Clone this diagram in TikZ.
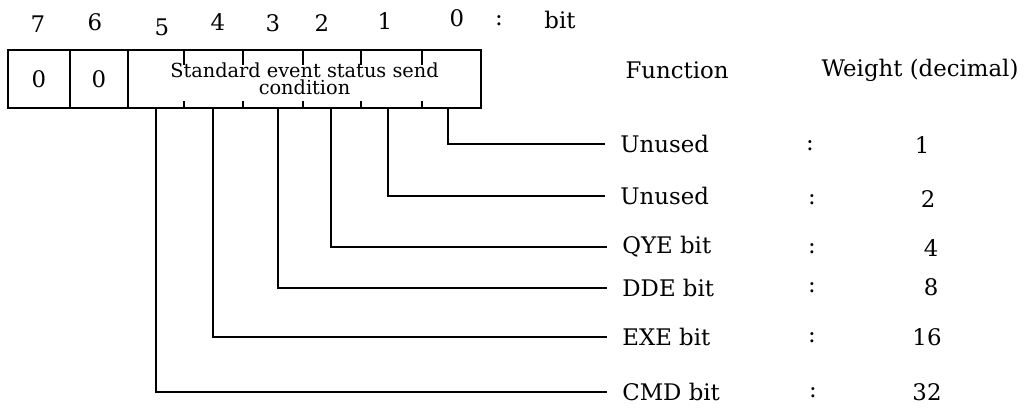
\documentclass[tikz,border=0pt]{standalone}
\usepackage{fontspec}
\setmainfont{DejaVu Serif}
\usetikzlibrary{positioning}

\begin{document}
\begin{tikzpicture}[x=0.02cm, y=-0.02cm,
  cell/.style={draw, line width=0.9pt, minimum height=1.16cm, inner sep=0pt, font=\fontsize{13}{15}\selectfont},
  num/.style={inner sep=0pt, font=\fontsize{13}{15}\selectfont},
  lab/.style={anchor=west, inner sep=0pt, font=\fontsize{13}{15}\selectfont},
  link/.style={line width=0.8pt, shorten >=0.3cm}]
  \useasboundingbox (0,0) rectangle (1033,410);
  % register
  \node[cell, minimum width=1.24cm] (c7) at (39,79) {0};
  \node[cell, minimum width=1.16cm] (c6) at (99,79) {0};
  \node[cell, minimum width=7.06cm, align=center, font=\fontsize{11}{10}\selectfont] (sesc) at (304.5,79) {Standard event status send\\condition};
  \draw[line width=0.8pt] (184,50) -- (184,65) (243,50) -- (243,65) (303,50) -- (303,65)
    (361,50) -- (361,65) (422,50) -- (422,65);
  \draw[line width=0.8pt] (184,101) -- (184,108) (243,101) -- (243,108) (303,101) -- (303,108)
    (361,101) -- (361,108) (422,101) -- (422,108);
  % bit numbers
  \node[num] (n7) at (38,24) {7};
  \node[num] (n6) at (95,22) {6};
  \node[num] (n5) at (162,27) {5};
  \node[num] (n4) at (218,22) {4};
  \node[num] (n3) at (273,23) {3};
  \node[num] (n2) at (322,23) {2};
  \node[num] (n1) at (385,21) {1};
  \node[num] (n0) at (457,18) {0};
  \node[num] (ncol) at (499,21) {:};
  \node[num] (nbit) at (560,20) {bit};
  % headings
  \node[num] (hfun) at (677,70) {Function};
  \node[num] (hwt) at (920,70) {Weight (decimal)};
  % functions
  \node[lab] (f0) at (620,144) {Unused};
  \node[lab] (f1) at (620,196) {Unused};
  \node[lab] (f2) at (622,247) {QYE bit};
  \node[lab] (f3) at (622,288) {DDE bit};
  \node[lab] (f4) at (622,337) {EXE bit};
  \node[lab] (f5) at (622,392) {CMD bit};
  % weights
  \node[num] (s0) at (810,146) {:};
  \node[num] (s1) at (812,200) {:};
  \node[num] (s2) at (812,249) {:};
  \node[num] (s3) at (812,288) {:};
  \node[num] (s4) at (812,338) {:};
  \node[num] (s5) at (813,393) {:};
  \node[num] (w0) at (922,145) {1};
  \node[num] (w1) at (928,199) {2};
  \node[num] (w2) at (931,248) {4};
  \node[num] (w3) at (931,287) {8};
  \node[num] (w4) at (927,337) {16};
  \node[num] (w5) at (927,392) {32};
  % bit taps
  \coordinate (b0) at (448,108);
  \coordinate (b1) at (388,108);
  \coordinate (b2) at (331,108);
  \coordinate (b3) at (278,108);
  \coordinate (b4) at (213,108);
  \coordinate (b5) at (156,108);
  \draw[link] (b0) |- (f0.west);
  \draw[link] (b1) |- (f1.west);
  \draw[link] (b2) |- (f2.west);
  \draw[link] (b3) |- (f3.west);
  \draw[link] (b4) |- (f4.west);
  \draw[link] (b5) |- (f5.west);
\end{tikzpicture}
\end{document}
